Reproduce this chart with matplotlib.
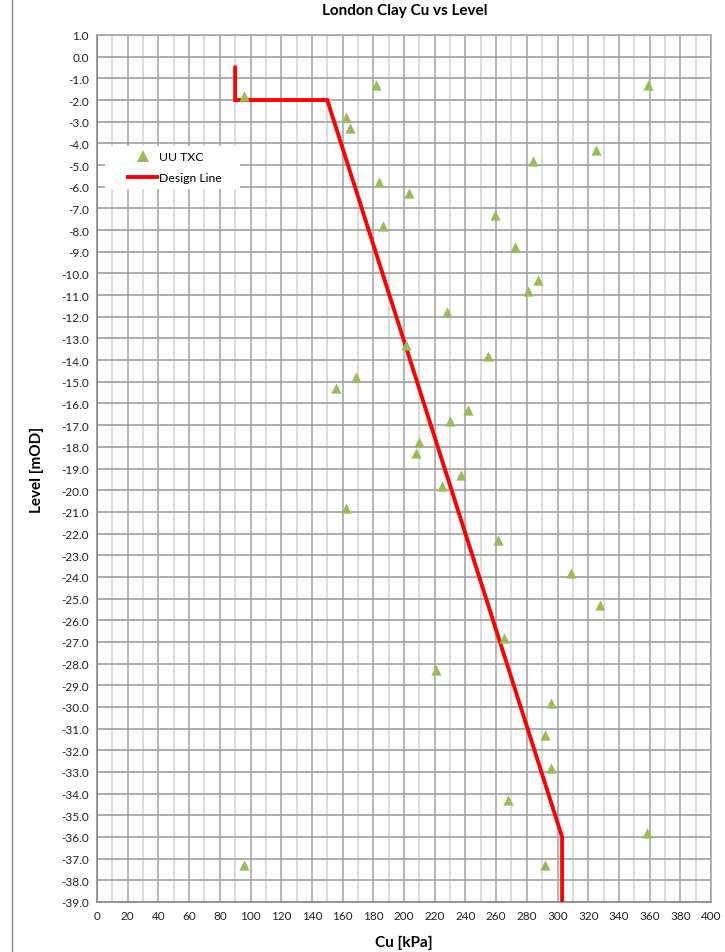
import numpy as np
import matplotlib
matplotlib.use("Agg")
import matplotlib.pyplot as plt
from matplotlib.lines import Line2D
from matplotlib.patches import Rectangle

# UU triaxial test results
uu_cu = [96, 182, 359, 162, 165, 325, 284, 184, 203, 259, 186, 272, 287, 281,
         228, 201, 255, 156, 169, 242, 230, 210, 208, 237, 225, 162, 261, 309,
         328, 265, 221, 296, 292, 296, 268, 358, 96, 292]
uu_level = [-1.8, -1.3, -1.3, -2.8, -3.3, -4.3, -4.8, -5.8, -6.3, -7.3, -7.8,
            -8.8, -10.3, -10.8, -11.8, -13.3, -13.8, -15.3, -14.8, -16.3,
            -16.8, -17.8, -18.3, -19.3, -19.8, -20.8, -22.3, -23.8, -25.3,
            -26.8, -28.3, -29.8, -31.3, -32.8, -34.3, -35.8, -37.3, -37.3]

# design line vertices
design_cu = [90, 90, 150, 303, 303]
design_level = [-0.5, -2.0, -2.0, -36.0, -39.0]

FONT = "Lato"
plt.rcParams["font.family"] = [FONT, "DejaVu Sans"]

W, H = 725, 953
L, R, T, B = 97, 711, 36, 903   # plot area in pixels
fig = plt.figure(figsize=(W / 100, H / 100), dpi=100)
ax = fig.add_axes([L / W, 1 - B / H, (R - L) / W, (B - T) / H])

ax.set_xlim(0, 400)
ax.set_ylim(-39, 1)

# grid: minor vertical every 10, major every 20, horizontal every 1
ax.set_xticks(np.arange(0, 401, 20))
ax.set_xticks(np.arange(10, 400, 20), minor=True)
ax.set_yticks(np.arange(-39, 1.01, 1))
ax.grid(which="minor", axis="x", color="#d4d4d4", lw=1.2)
ax.grid(which="major", axis="x", color="#a8a8a8", lw=1.2)
ax.grid(which="major", axis="y", color="#a0a0a0", lw=1.2)
ax.set_axisbelow(True)
ax.tick_params(which="both", length=0, labelsize=8.5, colors="#222222", pad=6)
ax.set_yticklabels([f"{v:.1f}" for v in np.arange(-39, 1.01, 1)])
for s in ax.spines.values():
    s.set_color("#a8a8a8")
    s.set_linewidth(1.2)
ax.spines["left"].set_color("#888888")
ax.spines["bottom"].set_color("#888888")

ax.plot(design_cu, design_level, color="#ff0000", lw=2.8, solid_joinstyle="miter",
        zorder=3)
ax.scatter(uu_cu, uu_level, marker="^", s=55, color="#9bbb59", linewidths=0,
           zorder=4)

ax.set_xlabel("Cu [kPa]", fontsize=11, fontweight="bold", labelpad=10)
ax.set_ylabel("Level [mOD]", fontsize=11, fontweight="bold", labelpad=12)
fig.text(405 / W, 1 - 11 / H, "London Clay Cu vs Level", ha="center",
         va="center", fontsize=11, fontweight="bold")


def ax_frac(px, py):
    return (px - L) / (R - L), 1 - (py - T) / (B - T)


# legend background
x0, y0 = ax_frac(105, 190)
x1, y1 = ax_frac(240, 147)
ax.add_patch(Rectangle((x0, y0), x1 - x0, y1 - y0, transform=ax.transAxes,
                       facecolor="white", edgecolor="none", zorder=2))

handles = [Line2D([], [], marker="^", ls="none", color="#9bbb59", ms=8,
                  markeredgewidth=0),
           Line2D([], [], color="#ff0000", lw=2.8)]
leg = ax.legend(handles, ["UU TXC", "Design Line"], loc="upper left",
                bbox_to_anchor=ax_frac(128, 152), frameon=False,
                fontsize=8.8, handlelength=2.4, handletextpad=0.15,
                borderpad=0, labelspacing=0.85, borderaxespad=0)
leg.set_zorder(5)

# outer chart border line
fig.add_artist(Line2D([12 / W, 12 / W], [0, 1], color="#888888", lw=1))

fig.savefig("out.png", dpi=100)
